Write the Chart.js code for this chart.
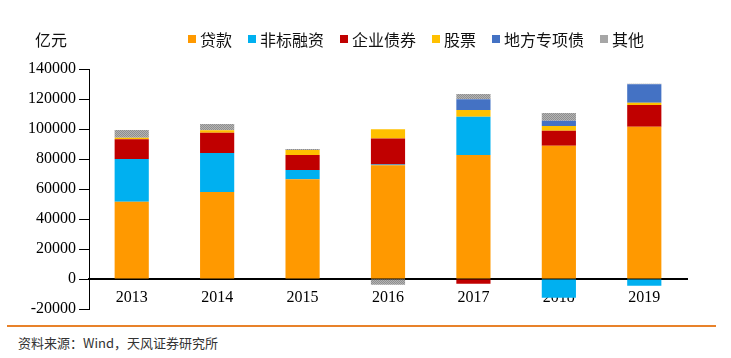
<!DOCTYPE html>
<html>
<head>
<meta charset="utf-8">
<script src="https://cdn.jsdelivr.net/npm/chart.js@4/dist/chart.umd.min.js"></script>
<style>
  body { margin: 0; background: #fff; width: 731px; height: 358px; overflow: hidden; position: relative; font-family: "Noto Sans CJK SC", sans-serif; }
  #wrap { position: absolute; left: 0; top: 0; width: 731px; height: 330px; }
  #unit { position: absolute; left: 35px; top: 27px; font-size: 16px; color: #111; }
  #legend { position: absolute; left: 188px; top: 27px; display: flex; align-items: center; font-size: 16px; color: #111; white-space: nowrap; }
  .item { display: flex; align-items: center; margin-right: 16px; }
  .box { width: 8px; height: 8px; margin-right: 4px; }
  #rule { position: absolute; left: 7px; top: 325px; width: 709px; height: 2px; background: #e8822a; }
  #source { position: absolute; left: 18px; top: 333px; font-size: 13px; color: #333; }
</style>
</head>
<body>
<div id="wrap"><canvas id="grafica"></canvas></div>
<div id="unit">亿元</div>
<div id="legend"></div>
<div id="rule"></div>
<div id="source">资料来源：Wind，天风证券研究所</div>
<script>
// --- DATOS (亿元) ---
const anios = ['2013', '2014', '2015', '2016', '2017', '2018', '2019'];
const prestamos = [51500, 58000, 66500, 75800, 82700, 88900, 101500];      // 贷款
const noEstandar = [28500, 26000, 6200, 600, 25500, -12500, -4500];       // 非标融资
const bonosEmpresa = [13100, 13500, 10000, 17200, -3100, 10000, 14500];    // 企业债券
const acciones = [1100, 1600, 3300, 6200, 4500, 3100, 1500];               // 股票
const bonosLocales = [0, 0, 0, 0, 7100, 3500, 12300];                      // 地方专项债
const otros = [5100, 4200, 700, -3800, 3500, 5200, 400];                   // 其他
const ticksY = [-20000, 0, 20000, 40000, 60000, 80000, 100000, 120000, 140000];

// trama punteada para "其他"
function tramaGris() {
    const c = document.createElement('canvas');
    c.width = 2; c.height = 2;
    const ctx = c.getContext('2d');
    ctx.fillStyle = '#b4b4b4'; ctx.fillRect(0, 0, 2, 2);
    ctx.fillStyle = '#8e8e8e'; ctx.fillRect(0, 0, 1, 1); ctx.fillRect(1, 1, 1, 1);
    return ctx.createPattern(c, 'repeat');
}

const series = [
    { label: '贷款', data: prestamos, color: '#ff9900' },
    { label: '非标融资', data: noEstandar, color: '#00b0f0' },
    { label: '企业债券', data: bonosEmpresa, color: '#c00000' },
    { label: '股票', data: acciones, color: '#ffc000' },
    { label: '地方专项债', data: bonosLocales, color: '#4472c4' },
    { label: '其他', data: otros, color: '#a6a6a6', fill: tramaGris() }
];

const fuenteEjes = { family: '"Liberation Serif", "Times New Roman", serif', size: 16 };

const grafica = new Chart(document.getElementById('grafica'), {
    type: 'bar',
    data: {
        labels: anios,
        datasets: series.map(s => ({
            label: s.label,
            data: s.data,
            backgroundColor: s.fill || s.color,
            legendColor: s.color,
            borderWidth: 0,
            barPercentage: 0.4,
            categoryPercentage: 1
        }))
    },
    options: {
        responsive: true,
        maintainAspectRatio: false,
        animation: false,
        layout: { padding: { top: 69, left: 28, right: 44, bottom: 21 } },
        plugins: { legend: { display: false }, tooltip: { enabled: false } },
        scales: {
            x: {
                stacked: true,
                position: { y: 0 },
                z: 1,
                grid: { display: false, drawTicks: false },
                border: { display: true, color: '#000', width: 2 },
                ticks: { color: '#000', font: fuenteEjes, padding: 9 }
            },
            y: {
                stacked: true,
                min: -20000,
                max: 140000,
                afterBuildTicks: axis => { axis.ticks = ticksY.map(v => ({ value: v })); },
                afterFit: axis => { axis.width = 61; },
                grid: { display: true, drawOnChartArea: false, drawTicks: true, tickLength: 10, color: '#000' },
                border: { display: true, color: '#000', width: 1 },
                ticks: { color: '#000', font: fuenteEjes, padding: 3, callback: v => String(v) }
            }
        }
    }
});

// leyenda HTML
const leyenda = document.getElementById('legend');
grafica.data.datasets.forEach(ds => {
    const item = document.createElement('div');
    item.className = 'item';
    const caja = document.createElement('span');
    caja.className = 'box';
    caja.style.background = ds.legendColor;
    const texto = document.createElement('span');
    texto.textContent = ds.label;
    item.appendChild(caja); item.appendChild(texto);
    leyenda.appendChild(item);
});
</script>
</body>
</html>
